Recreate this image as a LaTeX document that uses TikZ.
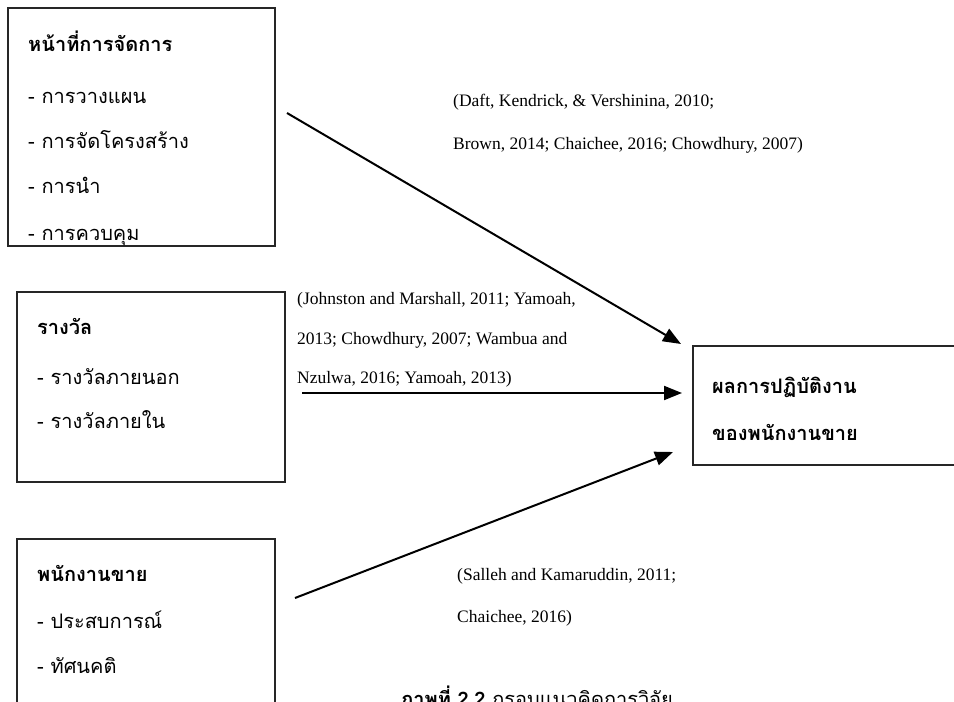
\documentclass[tikz,border=0pt]{standalone}
\usepackage{fontspec}
\setmainfont{Liberation Serif}
\newfontfamily\thai[Script=Thai]{Loma}
\usetikzlibrary{arrows.meta}
\tikzset{
  box/.style={draw=black!85, line width=1.2pt},
  arr/.style={line width=2pt, -{Triangle[length=18pt,width=14pt]}},
  th/.style={anchor=base west, inner sep=0pt, font=\thai\fontsize{20}{20}\selectfont},
  thb/.style={th, font=\thai\bfseries\fontsize{20}{20}\selectfont},
  cite/.style={anchor=base west, inner sep=0pt, font=\fontsize{17.5}{17.5}\selectfont},
}
\begin{document}
\begin{tikzpicture}[x=1pt,y=-1pt]
\useasboundingbox (0,0) rectangle (954,702);
\clip (0,0) rectangle (954,702);
% boxes
\draw[box] (8,8) rectangle (275,246);
\draw[box] (17,292) rectangle (285,482);
\draw[box] (17,539) rectangle (275,720);
\draw[box] (693,346) rectangle (970,465);
% box 1 text
\node[thb] (t1) at (28,51) {หน้าที่การจัดการ};
\node[th] (t1a) at (28,103) {- การวางแผน};
\node[th] (t1b) at (28,148) {- การจัดโครงสร้าง};
\node[th] (t1c) at (28,193) {- การนำ};
\node[th] (t1d) at (28,240) {- การควบคุม};
% box 2 text
\node[thb] (t2) at (37,334) {รางวัล};
\node[th] (t2a) at (37,384) {- รางวัลภายนอก};
\node[th] (t2b) at (37,428) {- รางวัลภายใน};
% box 3 text
\node[thb] (t3) at (37,581) {พนักงานขาย};
\node[th] (t3a) at (37,628) {- ประสบการณ์};
\node[th] (t3b) at (37,673) {- ทัศนคติ};
% box 4 text
\node[thb] (t4) at (712,393) {ผลการปฏิบัติงาน};
\node[thb] (t4a) at (712,440) {ของพนักงานขาย};
% citations
\node[cite] (c1) at (453,106) {(Daft, Kendrick, \& Vershinina, 2010;};
\node[cite] (c1b) at (453,149) {Brown, 2014; Chaichee, 2016; Chowdhury, 2007)};
\node[cite] (c2) at (297,304) {(Johnston and Marshall, 2011; Yamoah,};
\node[cite] (c2b) at (297,344) {2013; Chowdhury, 2007; Wambua and};
\node[cite] (c2c) at (297,383) {Nzulwa, 2016; Yamoah, 2013)};
\node[cite] (c3) at (457,580) {(Salleh and Kamaruddin, 2011;};
\node[cite] (c3b) at (457,622) {Chaichee, 2016)};
% caption (clipped at the bottom edge, as in the reference)
\node[th] (cap) at (400,706) {{\bfseries ภาพที่ 2.2} กรอบแนวคิดการวิจัย};
% arrows
\coordinate (a1s) at (287,113); \coordinate (a1e) at (681,344);
\coordinate (a2s) at (302,393); \coordinate (a2e) at (682,393);
\coordinate (a3s) at (295,598); \coordinate (a3e) at (673,452);
\draw[arr] (a1s) -- (a1e);
\draw[arr] (a2s) -- (a2e);
\draw[arr] (a3s) -- (a3e);
\end{tikzpicture}
\end{document}
